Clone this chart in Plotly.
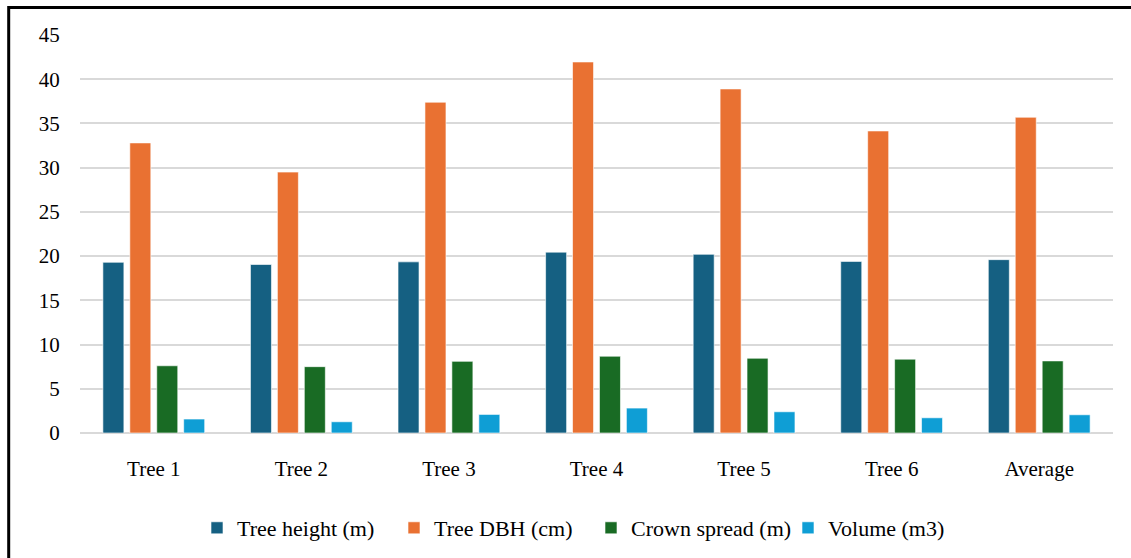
import plotly.graph_objects as go

categories = ["Tree 1", "Tree 2", "Tree 3", "Tree 4", "Tree 5", "Tree 6", "Average"]
tree_height = [19.3, 19.05, 19.35, 20.45, 20.2, 19.4, 19.6]
tree_dbh = [32.8, 29.5, 37.4, 41.95, 38.9, 34.15, 35.7]
crown_spread = [7.6, 7.5, 8.1, 8.68, 8.45, 8.35, 8.15]
volume = [1.58, 1.27, 2.1, 2.82, 2.4, 1.72, 2.06]
y_ticks = [0, 5, 10, 15, 20, 25, 30, 35, 40, 45]

series = [
    ("Tree height (m)", tree_height, "#156082"),
    ("Tree DBH (cm)", tree_dbh, "#E97132"),
    ("Crown spread (m)", crown_spread, "#196B24"),
    ("Volume (m3)", volume, "#0F9ED5"),
]

FONT = "Liberation Serif"

fig = go.Figure()
for name, vals, color in series:
    fig.add_trace(go.Bar(
        x=categories, y=vals, name=name,
        marker=dict(color=color, line=dict(color="rgba(255,255,255,0.6)", width=1)),
    ))

W, H = 1131, 558
L, R, T, B = 80, 18, 35, 125
pw, ph = W - L - R, H - T - B

def px_to_paper_x(px):
    return (px - L) / pw

def px_to_paper_y(py):
    return (H - B - py) / ph

fig.update_layout(
    width=W, height=H,
    margin=dict(l=L, r=R, t=T, b=B, autoexpand=False),
    paper_bgcolor="white", plot_bgcolor="white",
    barmode="group", bargap=0.27, bargroupgap=0.22,
    font=dict(family=FONT, size=21, color="#000000"),
    showlegend=True,
    legend=dict(
        orientation="h", x=px_to_paper_x(591), xanchor="center",
        y=px_to_paper_y(528), yanchor="middle",
        font=dict(family=FONT, size=22, color="#000000"),
        entrywidth=152, entrywidthmode="pixels",
        traceorder="normal",
    ),
    xaxis=dict(
        showgrid=False, showline=False, zeroline=False,
        ticks="outside", ticklen=17, tickcolor="rgba(0,0,0,0)",
        tickfont=dict(family=FONT, size=21, color="#000000"),
    ),
    yaxis=dict(
        range=[0, 45], tickvals=y_ticks,
        showgrid=True, gridcolor="#d9d9d9", gridwidth=1.5,
        zeroline=True, zerolinecolor="#d9d9d9", zerolinewidth=1.5,
        showline=False,
        ticks="outside", ticklen=15, tickcolor="rgba(0,0,0,0)",
        tickfont=dict(family=FONT, size=21, color="#000000"),
    ),
    shapes=[dict(
        type="rect", xref="paper", yref="paper",
        x0=px_to_paper_x(8.7), x1=px_to_paper_x(1145),
        y0=px_to_paper_y(575), y1=px_to_paper_y(7.5),
        line=dict(color="black", width=3), fillcolor="rgba(0,0,0,0)",
        layer="above",
    )],
)

fig.write_html(
    "out.html",
    config={"displayModeBar": False},
    post_script="document.body.style.margin='0';document.body.style.overflow='hidden';",
)
